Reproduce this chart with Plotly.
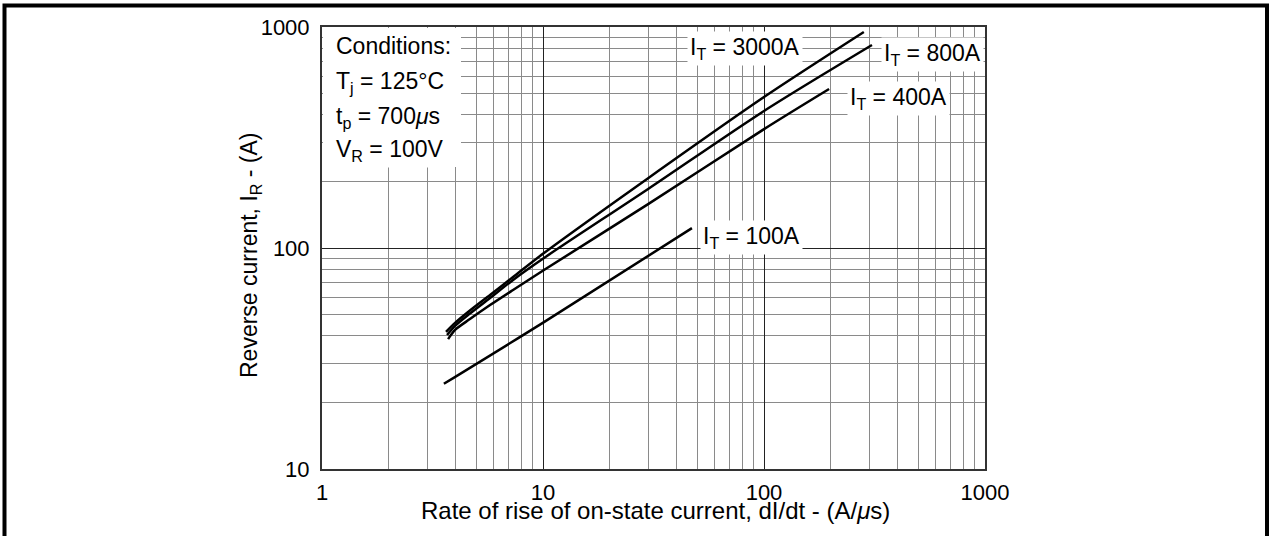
import plotly.graph_objects as go

# ---- data (dI/dt in A/us, reverse current in A) ----
x_3000 = [3.64, 4.00, 4.67, 5.76, 7.32, 10.1, 29.9, 100, 283]
y_3000 = [41.7, 45.8, 52.1, 61.3, 73.9, 94.9, 207, 482, 949]

x_800 = [3.68, 4.00, 4.67, 5.76, 7.32, 10.1, 29.9, 100, 308]
y_800 = [40.4, 44.4, 50.5, 59.4, 71.7, 90.1, 185, 417, 829]

x_400 = [3.72, 4.00, 4.67, 5.76, 7.32, 10.1, 29.9, 100, 197]
y_400 = [38.7, 42.6, 47.7, 55.2, 64.6, 79.5, 158, 345, 524]

x_100 = [3.56, 10.1, 47.2]
y_100 = [24.3, 46.2, 123]

x_ticks = [1, 10, 100, 1000]
y_ticks = [10, 100, 1000]
x_minor = [m * d for d in (1, 10, 100) for m in range(2, 10)]
y_minor = [m * d for d in (10, 100) for m in range(2, 10)]

series = [
    (x_3000, y_3000),
    (x_800, y_800),
    (x_400, y_400),
    (x_100, y_100),
]

FONT = "Liberation Sans, Arial, Helvetica, sans-serif"

fig = go.Figure()
for xs, ys in series:
    fig.add_trace(go.Scatter(x=xs, y=ys, mode="lines",
                             line=dict(color="black", width=2.5, shape="spline", smoothing=0.8),
                             showlegend=False, hoverinfo="skip"))

L, R, T, B = 322, 286, 27, 67
W, H = 1271, 536
pw, ph = W - L - R, H - T - B

def px(xp):
    return (xp - L) / pw

def py(yp):
    return (H - B - yp) / ph

axis_common = dict(
    type="log",
    showline=True, mirror=True, linecolor="#333", linewidth=2,
    gridcolor="#222", gridwidth=1.3,
    ticks="", tickfont=dict(family=FONT, size=22, color="black"),
    zeroline=False,
)

fig.update_xaxes(
    **axis_common,
    range=[0, 3],
    tickvals=x_ticks, ticktext=[str(v) for v in x_ticks],
    minor=dict(tickvals=x_minor, showgrid=True, gridcolor="#8a8a8a", gridwidth=1, ticks=""),
    ticklabelstandoff=3,
)
fig.update_yaxes(
    **axis_common,
    range=[1, 3],
    tickvals=y_ticks, ticktext=[str(v) for v in y_ticks],
    minor=dict(tickvals=y_minor, showgrid=True, gridcolor="#8a8a8a", gridwidth=1, ticks=""),
    ticklabelstandoff=6,
)

shapes = [
    # white box behind conditions text
    dict(type="rect", xref="paper", yref="paper", x0=px(323), x1=px(461), y0=py(167), y1=py(28),
         fillcolor="white", line=dict(width=0), layer="above"),
    # outer frame
    dict(type="rect", xref="paper", yref="paper", x0=px(4.5), x1=px(1267), y0=py(545), y1=py(5.5),
         fillcolor="rgba(0,0,0,0)", line=dict(color="black", width=4), layer="above"),
]

annots = []
def lab(text, xp, yp, xanchor="center", size=23, bg="white", angle=0):
    annots.append(dict(text=text, xref="paper", yref="paper", x=px(xp), y=py(yp), xanchor=xanchor, yanchor="middle",
                       showarrow=False, bgcolor=bg, borderpad=2, textangle=angle,
                       font=dict(family=FONT, size=size, color="black")))

lab("Conditions:", 333, 46, "left")
lab("T<sub>j</sub> = 125°C", 333, 82, "left")
lab("t<sub>p</sub> = 700<i>μ</i>s", 333, 117, "left")
lab("V<sub>R</sub> = 100V", 333, 150, "left")
lab("I<sub>T</sub> = 3000A", 745, 48)
lab("I<sub>T</sub> = 800A", 932, 54)
lab("I<sub>T</sub> = 400A", 898, 99)
lab("I<sub>T</sub> = 100A", 751, 237)
# axis titles
lab("Rate of rise of on-state current, dI/dt - (A/<i>μ</i>s)", 655, 510, size=24, bg="rgba(0,0,0,0)")
lab("Reverse current, I<sub>R</sub> - (A)", 251, 255, size=23, bg="rgba(0,0,0,0)", angle=-90)

fig.update_layout(
    width=W, height=H,
    margin=dict(l=L, r=R, t=T, b=B, autoexpand=False),
    paper_bgcolor="white", plot_bgcolor="white",
    shapes=shapes, annotations=annots,
    font=dict(family=FONT, color="black"),
)

fig.write_html("out.html", config={"displayModeBar": False},
               post_script="document.body.style.margin='0px';")
